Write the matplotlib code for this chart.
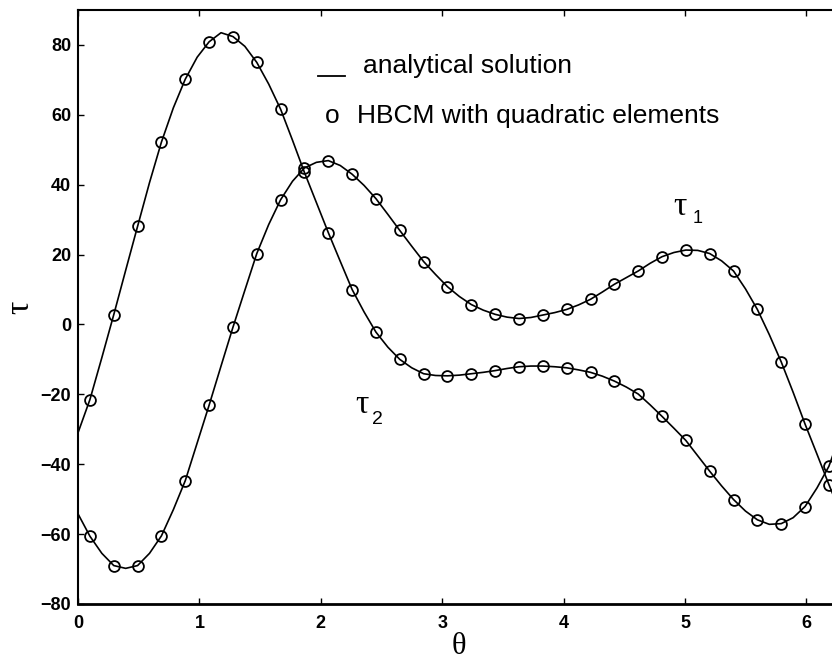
import numpy as np
import matplotlib
matplotlib.use("Agg")
import matplotlib.pyplot as plt
from matplotlib.lines import Line2D

# ---- data ----
n_elem = 32
theta_pts = (np.arange(n_elem) + 0.5) * 2 * np.pi / n_elem      # marker (collocation) angles
theta_nodes = np.arange(n_elem + 1) * 2 * np.pi / n_elem        # element boundaries

tau1_pts = [-60.6, -69.0, -69.0, -60.5, -44.7, -23.1, -0.8, 20.3, 35.7, 44.8,
            46.9, 43.0, 36.0, 26.9, 18.0, 10.8, 5.7, 2.9, 1.7, 2.7,
            4.3, 7.2, 11.5, 15.3, 19.4, 21.3, 20.3, 15.3, 4.3, -10.7,
            -28.5, -45.8]
tau2_pts = [-21.5, 2.8, 28.1, 52.2, 70.2, 80.9, 82.4, 75.0, 61.6, 43.5,
            26.3, 10.0, -2.2, -10.0, -14.1, -14.7, -14.1, -13.2, -12.1, -11.9,
            -12.4, -13.7, -16.2, -19.9, -26.3, -33.2, -42.0, -50.1, -55.9, -57.0,
            -52.1, -40.6]

tau1_nodes = [-54.2, -65.5, -69.8, -65.5, -53.0, -33.9, -11.9, 9.8, 28.6, 41.0,
              46.4, 45.5, 39.8, 31.5, 22.4, 14.3, 8.0, 4.1, 2.1, 2.0,
              3.4, 5.6, 9.3, 13.4, 17.5, 20.6, 21.2, 18.2, 10.2, -2.9,
              -19.4, -37.1, -54.2]
tau2_nodes = [-31.0, -9.5, 15.5, 40.6, 62.0, 76.5, 83.5, 79.6, 68.8, 52.7,
              34.9, 18.1, 3.6, -6.5, -12.4, -14.6, -14.5, -13.7, -12.6, -11.9,
              -12.1, -13.0, -14.8, -17.9, -23.0, -29.7, -37.6, -46.2, -53.4, -57.2,
              -55.3, -46.8, -31.0]

x_ticks = [0, 1, 2, 3, 4, 5, 6]
y_ticks = [-80, -60, -40, -20, 0, 20, 40, 60, 80]
legend_labels = ["analytical solution", "HBCM with quadratic elements"]


def merge(nodes_theta, nodes_val, pts_theta, pts_val):
    th = np.concatenate([nodes_theta, pts_theta])
    v = np.concatenate([nodes_val, pts_val])
    order = np.argsort(th)
    return th[order], v[order]


th1, v1 = merge(theta_nodes, tau1_nodes, theta_pts, tau1_pts)
th2, v2 = merge(theta_nodes, tau2_nodes, theta_pts, tau2_pts)

# ---- figure ----
plt.rcParams['font.family'] = ['Liberation Sans', 'DejaVu Sans']
greek = ['Liberation Serif', 'DejaVu Serif']
fig = plt.figure(figsize=(8.32, 6.61), dpi=100)
x0, x1, ytop, ybot = 78, 840.8, 10, 604
ax = fig.add_axes([x0 / 832, 1 - ybot / 661, (x1 - x0) / 832, (ybot - ytop) / 661])

lw = 1.2
ax.plot(th1, v1, color='black', lw=lw)
ax.plot(th2, v2, color='black', lw=lw)
mk = dict(ls='none', marker='o', ms=7.8, mfc='none', mec='black', mew=1.3)
ax.plot(theta_pts, tau1_pts, **mk)
ax.plot(theta_pts, tau2_pts, **mk)

ax.set_xlim(0, 2 * np.pi)
ax.set_ylim(-80, 90)
ax.set_xticks(x_ticks)
ax.set_yticks(y_ticks)
ax.tick_params(direction='in', length=4, width=1, top=True, right=True)
ax.tick_params(axis='x', pad=8)
ax.tick_params(axis='y', pad=5)
for lab in ax.get_xticklabels() + ax.get_yticklabels():
    lab.set_fontsize(13)
    lab.set_fontweight('bold')
for s in ax.spines.values():
    s.set_linewidth(1.5)
ax.spines['bottom'].set_linewidth(2.0)

# axis labels placed as figure text so they stay inside the canvas
fig.text(459 / 832, 1 - 646 / 661, 'θ', family=greek, fontsize=22,
         ha='center', va='center')
fig.text(20 / 832, 1 - 307 / 661, 'τ', family=greek, fontsize=24,
         rotation=90, ha='center', va='center')

# curve labels
ax.text(4.96, 33.8, 'τ', family=greek, fontsize=24, ha='center', va='center')
ax.text(5.10, 30.2, '1', fontsize=13, ha='center', va='center')
ax.text(2.34, -22.9, 'τ', family=greek, fontsize=24, ha='center', va='center')
ax.text(2.47, -27.2, '2', fontsize=14, ha='center', va='center')

# legend (drawn manually to mimic the reference layout)
ax.add_line(Line2D([0.3146, 0.3500], [0.8889, 0.8889], transform=ax.transAxes,
                   color='black', lw=1.3))
ax.text(0.3740, 0.8934, legend_labels[0], transform=ax.transAxes,
        fontsize=19, va='baseline', ha='left')
ax.text(0.3238, 0.8098, 'o', transform=ax.transAxes,
        fontsize=19, va='baseline', ha='left')
ax.text(0.3654, 0.8093, legend_labels[1], transform=ax.transAxes,
        fontsize=19, va='baseline', ha='left')

fig.savefig('out.png', dpi=100)
